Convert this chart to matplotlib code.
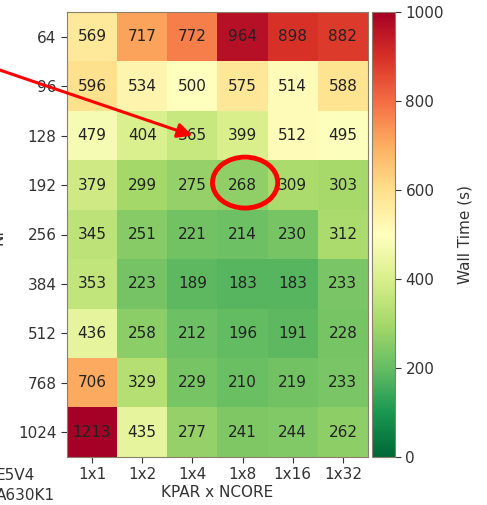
import numpy as np
import matplotlib.pyplot as plt
from matplotlib.patches import Ellipse

# wall time (s) per NP row and KPAR x NCORE column
np_values = [64, 96, 128, 192, 256, 384, 512, 768, 1024]
layouts = ['1x1', '1x2', '1x4', '1x8', '1x16', '1x32']

t_64 = [569, 717, 772, 964, 898, 882]
t_96 = [596, 534, 500, 575, 514, 588]
t_128 = [479, 404, 365, 399, 512, 495]
t_192 = [379, 299, 275, 268, 309, 303]
t_256 = [345, 251, 221, 214, 230, 312]
t_384 = [353, 223, 189, 183, 183, 233]
t_512 = [436, 258, 212, 196, 191, 228]
t_768 = [706, 329, 229, 210, 219, 233]
t_1024 = [1213, 435, 277, 241, 244, 262]

times = np.array([t_64, t_96, t_128, t_192, t_256, t_384, t_512, t_768, t_1024])

W, H = 487, 505
fig = plt.figure(figsize=(W / 100, H / 100), dpi=100)
ax = fig.add_axes([67 / W, (H - 457) / H, 301 / W, 445 / H])
cax = fig.add_axes([372 / W, (H - 457) / H, 23 / W, 445 / H])

im = ax.imshow(times, cmap='RdYlGn_r', vmin=0, vmax=1000, aspect='auto')

for i in range(len(np_values)):
    for j in range(len(layouts)):
        ax.text(j, i, str(times[i, j]), ha='center', va='center',
                fontsize=11, color='#222222')

ax.set_xticks(range(len(layouts)))
ax.set_xticklabels(layouts)
ax.set_yticks(range(len(np_values)))
ax.set_yticklabels([str(v) for v in np_values])
ax.tick_params(labelsize=11, colors='#333333', length=4)
ax.set_xlabel('KPAR x NCORE', fontsize=11, color='#333333', labelpad=2)
ax.set_ylabel('NP', fontsize=11, color='#333333')
ax.yaxis.set_label_coords(-0.205, 0.5)
for s in ax.spines.values():
    s.set_color('#8a7f6a')

cb = fig.colorbar(im, cax=cax)
cb.set_ticks([0, 200, 400, 600, 800, 1000])
cb.ax.tick_params(labelsize=11, colors='#333333', length=4)
cb.set_label('Wall Time (s)', fontsize=11, color='#333333', labelpad=10)
cb.outline.set_edgecolor('#8a7f6a')

# cropped side notes
fig.text(35 / W, 1 - 476 / H, 'E5V4', ha='right', va='center',
         fontsize=11, color='#333333')
fig.text(55 / W, 1 - 495 / H, 'A630K1', ha='right', va='center',
         fontsize=11, color='#333333')

# highlight
ax.annotate('', xy=(2, 2), xycoords='data',
            xytext=(-15, H - 65), textcoords='figure pixels',
            arrowprops=dict(arrowstyle='-|>', color='red', lw=2.2,
                            mutation_scale=22, shrinkA=0, shrinkB=0))
ax.add_patch(Ellipse((3.05, 2.95), 1.3, 1.03, fill=False,
                     edgecolor='red', lw=3.5, clip_on=False))

fig.savefig('out.png', dpi=100)
